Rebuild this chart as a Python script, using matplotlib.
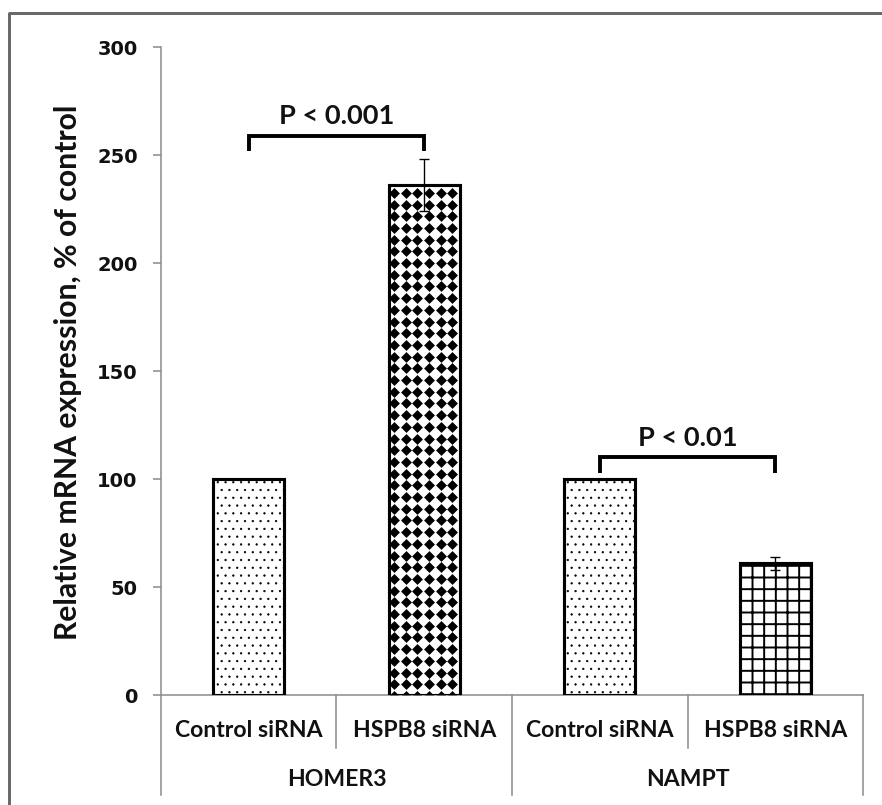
import numpy as np
import matplotlib as mpl
import matplotlib.pyplot as plt
from matplotlib.lines import Line2D

# data
conditions = ['Control siRNA', 'HSPB8 siRNA', 'Control siRNA', 'HSPB8 siRNA']
genes = ['HOMER3', 'NAMPT']
expression = [100, 236, 100, 61]
expression_err = [0, 12, 0, 3]
yticks = [0, 50, 100, 150, 200, 250, 300]
# (left bar, right bar, bracket height, text)
brackets = [(0, 1, 259, 'P < 0.001'), (2, 3, 110, 'P < 0.01')]

# fill styles: '...' dots, '++' grid, 'diamond' = checker of black diamonds
hatches = ['...', 'diamond', '...', '++']
hatch_lws = [0.35, 0.0, 0.35, 1.0]

grey = '#8c8c8c'
txt = '#111111'
lab_font = 'Lato'

fig = plt.figure(figsize=(6.3, 5.75), dpi=140)
ax = fig.add_axes([0.1825, 0.1366, 0.796, 0.805])
ax.set_xlim(-0.5, len(conditions) - 0.5)
ax.set_ylim(0, 300)

x = np.arange(len(conditions))
w = 0.405
for i in range(len(conditions)):
    h = hatches[i] if hatches[i] != 'diamond' else None
    with mpl.rc_context({'hatch.linewidth': max(hatch_lws[i], 0.1)}):
        b = ax.bar(x[i], expression[i], width=w, color='white', edgecolor='black',
                   hatch=h, linewidth=0, zorder=2)
    patch = b.patches[0]
    if hasattr(patch, 'set_hatch_linewidth') and h:
        patch.set_hatch_linewidth(hatch_lws[i])
    if hatches[i] == 'diamond':
        # black diamonds on a square pitch, clipped to the bar
        pitch = 11.7
        p0 = ax.transData.transform((0, 0))
        p1 = ax.transData.transform((1, 1))
        dx = pitch / (p1[0] - p0[0])
        dy = pitch / (p1[1] - p0[1])
        left = x[i] - w / 2
        xs = np.arange(left + 0.45 * dx, x[i] + w / 2 + dx, dx)
        ys = np.arange(expression[i] - 0.65 * dy, -dy, -dy)
        gx, gy = np.meshgrid(xs, ys)
        dm, = ax.plot(gx.ravel(), gy.ravel(), linestyle='none', marker=(4, 0, 0),
                      markersize=5.6, markerfacecolor='black', markeredgewidth=0, zorder=2.5)
        dm.set_clip_path(patch)
ax.bar(x, expression, width=w, fill=False, edgecolor='black', linewidth=1.6, zorder=3)

err_idx = [i for i in range(len(expression_err)) if expression_err[i] > 0]
ax.errorbar(x[err_idx], np.array(expression)[err_idx], yerr=np.array(expression_err)[err_idx],
            fmt='none', ecolor='black', elinewidth=0.7, capsize=2.5, capthick=0.7, zorder=4)

for i0, i1, yb, t in brackets:
    ax.plot([x[i0], x[i0], x[i1], x[i1]], [yb - 7, yb, yb, yb - 7], color='black',
            linewidth=2.0, solid_joinstyle='miter', solid_capstyle='butt', zorder=4)
    ax.text((x[i0] + x[i1]) / 2, yb + 9, t, ha='center', va='center', fontsize=14,
            family=lab_font, fontweight='bold', color=txt)

ax.set_yticks(yticks)
ax.set_yticklabels([str(v) for v in yticks], fontsize=10, fontweight='bold',
                   family='DejaVu Sans', color=txt)
ax.tick_params(axis='y', length=4, width=0.8, color=grey, pad=8)
ax.set_xticks([])
for s in ['top', 'right']:
    ax.spines[s].set_visible(False)
for s in ['left', 'bottom']:
    ax.spines[s].set_color(grey)
    ax.spines[s].set_linewidth(0.8)

ax.set_ylabel('Relative mRNA expression, % of control', fontsize=15.5, fontweight='bold',
              family=lab_font, color=txt)
ax.yaxis.set_label_coords(-0.113, 0.498)

# category axis with group separators
tr = ax.get_xaxis_transform()
for xs_ in [0.5, 2.5]:
    ax.add_line(Line2D([xs_, xs_], [0, -0.082], transform=tr, color=grey, lw=0.8, clip_on=False))
for xs_ in [-0.5, 1.5, 3.5]:
    ax.add_line(Line2D([xs_, xs_], [0, -0.154], transform=tr, color=grey, lw=0.8, clip_on=False))
for i, c in enumerate(conditions):
    ax.text(x[i], -0.054, c, transform=tr, ha='center', va='center', fontsize=11.8,
            fontweight='bold', family=lab_font, color=txt)
for g, gname in enumerate(genes):
    ax.text(2 * g + 0.5, -0.131, gname, transform=tr, ha='center', va='center', fontsize=11.8,
            fontweight='bold', family=lab_font, color=txt)

# outer frame (cut at right and bottom)
fig.add_artist(Line2D([0.0102, 0.0102, 1.0], [0.0, 0.9839, 0.9839], transform=fig.transFigure,
                      color='#666666', lw=1.5))

fig.savefig('out.png', dpi=140)
